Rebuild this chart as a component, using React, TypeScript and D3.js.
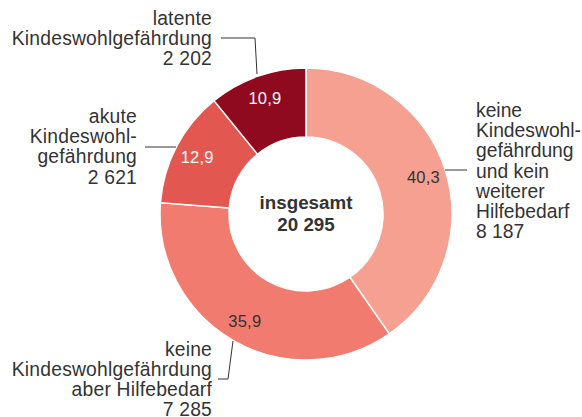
import React from "react";
import * as d3 from "d3";

const categories = [
  "keine Kindeswohlgefährdung und kein weiterer Hilfebedarf",
  "keine Kindeswohlgefährdung aber Hilfebedarf",
  "akute Kindeswohlgefährdung",
  "latente Kindeswohlgefährdung",
];
const values = [8187, 7285, 2621, 2202];
const percentLabels = ["40,3", "35,9", "12,9", "10,9"];
const valueLabels = ["8 187", "7 285", "2 621", "2 202"];
const labelLines = [
  ["keine", "Kindeswohl-", "gefährdung", "und kein", "weiterer", "Hilfebedarf", "8 187"],
  ["keine", "Kindeswohlgefährdung", "aber Hilfebedarf", "7 285"],
  ["akute", "Kindeswohl-", "gefährdung", "2 621"],
  ["latente", "Kindeswohlgefährdung", "2 202"],
];
const totalLabel = ["insgesamt", "20 295"];
const colors = ["#F5A091", "#F27B6F", "#E2574F", "#8F0A1F"];
const pctColors = ["#333333", "#333333", "#ffffff", "#ffffff"];

const W = 582;
const H = 417;
const cx = 306;
const cy = 214;
const R = 146;
const r0 = 77;
const FONT = "'Liberation Sans', Arial, sans-serif";
const TXT = "#333333";

// label layout: anchor x, first baseline y, step, text-anchor, letter spacing, leader polyline
const layout = [
  { x: 476, y: 117, step: 20.2, anchor: "start", ls: 0, leader: [[445, 170], [467, 170]] },
  { x: 212, y: 356, step: 20, anchor: "end", ls: 0.2, leader: [[218, 379], [228, 379], [233, 341]] },
  { x: 137, y: 123, step: 20.2, anchor: "end", ls: 0.2, leader: [[145, 147], [176, 147]] },
  { x: 212, y: 25, step: 20, anchor: "end", ls: 0.2, leader: [[221, 38], [255, 38], [257, 74]] },
];

export default function App() {
  const pie = d3.pie<number>().sort(null).value((d) => d)(values);
  const arc = d3.arc<d3.PieArcDatum<number>>().innerRadius(r0).outerRadius(R);
  const labelArc = d3.arc<d3.PieArcDatum<number>>().innerRadius(123).outerRadius(123);
  const line = d3.line();

  return (
    <svg width={W} height={H} style={{ position: "absolute", left: 0, top: 0, fontFamily: FONT }}>
      <rect width={W} height={H} fill="#ffffff" />
      <g transform={`translate(${cx},${cy})`}>
        {pie.map((p, i) => (
          <path key={categories[i]} d={arc(p) || ""} fill={colors[i]} stroke="#ffffff" strokeWidth={1.5} />
        ))}
        {pie.map((p, i) => {
          const [x, y] = labelArc.centroid(p);
          return (
            <text key={"p" + i} x={x} y={y} dy="0.36em" textAnchor="middle" fontSize={16.5} letterSpacing={0.2} fill={pctColors[i]}>
              {percentLabels[i]}
            </text>
          );
        })}
        <text textAnchor="middle" fontSize={18.8} fontWeight="bold" fill={TXT}>
          <tspan x={0} y={-5}>{totalLabel[0]}</tspan>
          <tspan x={0} y={17}>{totalLabel[1]}</tspan>
        </text>
      </g>
      {layout.map((l, i) => (
        <g key={"l" + i}>
          <path d={line(l.leader as [number, number][]) || ""} fill="none" stroke={TXT} strokeWidth={1} />
          <text textAnchor={l.anchor} fontSize={19.3} letterSpacing={l.ls} fill={TXT}>
            {labelLines[i].map((t, j) => (
              <tspan key={j} x={l.x} y={l.y + j * l.step}>
                {t}
              </tspan>
            ))}
          </text>
        </g>
      ))}
      <title>{valueLabels.join(", ")}</title>
    </svg>
  );
}
